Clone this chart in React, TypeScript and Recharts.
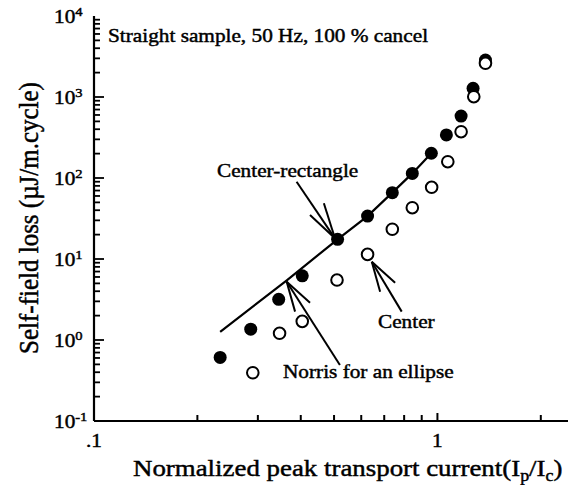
import { ComposedChart, Scatter, Line, XAxis, YAxis, ReferenceLine } from "recharts";

const W = 573;
const H = 485;
const LEFT = 94;
const TOP = 16;
const PLOT_W = 474;
const PLOT_H = 405;
const SX = 1.12; // scan is a little wider than tall
const FONT = '"Liberation Serif", "Times New Roman", serif';
const INK = 0.45; // thin outline so the text reads as heavy as the scan

// filled circles: Center-rectangle
const rectX = [0.233, 0.286, 0.345, 0.404, 0.512, 0.626, 0.739, 0.845, 0.96, 1.062, 1.172, 1.27, 1.38];
const rectLoss = [0.61, 1.36, 3.18, 6.2, 17.5, 33.9, 65.9, 114, 202, 340, 582, 1280, 2860];

// open circles: Center
const centerX = [0.29, 0.347, 0.404, 0.51, 0.626, 0.739, 0.845, 0.962, 1.072, 1.172, 1.276, 1.38];
const centerLoss = [0.394, 1.21, 1.7, 5.5, 11.4, 23.3, 43, 76.8, 159, 373, 1009, 2606];

// Norris for an ellipse
const norrisX = [0.233, 0.365, 0.512, 0.626, 0.739, 0.845, 0.96];
const norrisLoss = [1.26, 5.5, 17.5, 33.9, 65.9, 114, 202];

const xDomain = [0.1, 2.4];
const yDomain = [0.1, 10000];
const xTicks = [0.1, 0.2, 0.3, 0.4, 0.5, 0.6, 0.7, 0.8, 0.9, 1, 2];
const xTickLabels = [".1", "", "", "", "", "", "", "", "", "1", ""];
const yDecades = [0.1, 1, 10, 100, 1000, 10000];
const yExponents = ["-1", "0", "1", "2", "3", "4"];
const yTicks = yDecades.flatMap((d, i) =>
  i === yDecades.length - 1 ? [d] : [1, 2, 3, 4, 5, 6, 7, 8, 9].map((m) => +(d * m).toPrecision(3))
);

// annotation arrows in data units: tail, tip, two barbs
const arrows = [
  { tail: [0.389, 90], tip: [0.503, 18], barbs: [[0.4256, 34.9], [0.467, 48.7]] },
  { tail: [0.52, 0.491], tip: [0.364, 5.25], barbs: [[0.385, 2.24], [0.4256, 2.89]] },
  { tail: [0.787, 2.24], tip: [0.644, 9.27], barbs: [[0.681, 3.95], [0.753, 5.1]] },
];

const toPts = (xs: number[], ys: number[]) => xs.map((x, i) => ({ x, y: ys[i] }));
const rectData = toPts(rectX, rectLoss);
const centerData = toPts(centerX, centerLoss);
const norrisData = toPts(norrisX, norrisLoss);

// same log mapping as the chart's plot box, only used for the inward tick marks
const xSpan = Math.log10(xDomain[1] / xDomain[0]);
const ySpan = Math.log10(yDomain[1] / yDomain[0]);
const tx = (v: number) => LEFT + (PLOT_W * Math.log10(v / xDomain[0])) / xSpan;
const ty = (v: number) => TOP + PLOT_H * (1 - Math.log10(v / yDomain[0]) / ySpan);

const XTickLabel = (props: any) => {
  const { x, y, payload } = props;
  const label = xTickLabels[xTicks.indexOf(payload.value)];
  if (!label) return <g />;
  return (
    <text
      transform={`translate(${x},${y + 26}) scale(${SX},1)`}
      textAnchor="middle"
      fontSize={19}
      fontFamily={FONT}
      fill="#000"
      stroke="#000"
      strokeWidth={INK}
    >
      {label}
    </text>
  );
};

const YTickLabel = (props: any) => {
  const { x, y, payload } = props;
  const i = yDecades.indexOf(payload.value);
  if (i < 0) return <g />;
  return (
    <text
      transform={`translate(${x - 40},${y + 7}) scale(${SX},1)`}
      fontSize={19}
      fontFamily={FONT}
      fill="#000"
      stroke="#000"
      strokeWidth={INK}
    >
      10
      <tspan fontSize={13} dy={-7}>{yExponents[i]}</tspan>
    </text>
  );
};

const dot = (p: any) => <circle cx={p.cx} cy={p.cy} r={6.5} fill="#000" />;
const ring = (p: any) => <circle cx={p.cx} cy={p.cy} r={5.8} fill="#fff" stroke="#000" strokeWidth={2} />;

const Note = ({ x, y, size = 19, children }: any) => (
  <text
    transform={`translate(${x},${y}) scale(${SX},1)`}
    fontSize={size}
    fontFamily={FONT}
    fill="#000"
    stroke="#000"
    strokeWidth={INK}
  >
    {children}
  </text>
);

const frame = { stroke: "#000", strokeWidth: 2.2 };

export default function App() {
  return (
    <div style={{ position: "absolute", left: 0, top: 0, width: W, height: H, background: "#fff" }}>
      <ComposedChart width={W} height={H} margin={{ top: TOP, right: 5, bottom: 0, left: 0 }}>
        <XAxis
          dataKey="x"
          type="number"
          scale="log"
          domain={xDomain}
          allowDataOverflow
          ticks={xTicks}
          tick={<XTickLabel />}
          tickSize={0}
          tickMargin={0}
          tickLine={false}
          axisLine={frame}
          height={64}
          interval={0}
        />
        <XAxis xAxisId="top" orientation="top" type="number" scale="log" domain={xDomain} allowDataOverflow tick={false} tickLine={false} axisLine={frame} height={0} />
        <YAxis
          dataKey="y"
          type="number"
          scale="log"
          domain={yDomain}
          allowDataOverflow
          ticks={yTicks}
          tick={<YTickLabel />}
          tickSize={0}
          tickMargin={0}
          tickLine={false}
          axisLine={frame}
          width={LEFT}
          interval={0}
        />
        <YAxis yAxisId="right" orientation="right" type="number" scale="log" domain={yDomain} allowDataOverflow tick={false} tickLine={false} axisLine={frame} width={0} />
        <Line data={norrisData} dataKey="y" type="linear" stroke="#000" strokeWidth={2.2} dot={false} isAnimationActive={false} />
        {arrows.map((a, i) => (
          <g key={i}>
            <ReferenceLine segment={[{ x: a.tail[0], y: a.tail[1] }, { x: a.tip[0], y: a.tip[1] }]} stroke="#000" strokeWidth={2} />
            {a.barbs.map((b, j) => (
              <ReferenceLine key={j} segment={[{ x: b[0], y: b[1] }, { x: a.tip[0], y: a.tip[1] }]} stroke="#000" strokeWidth={2} />
            ))}
          </g>
        ))}
        <Scatter data={rectData} shape={dot} isAnimationActive={false} />
        <Scatter data={centerData} shape={ring} isAnimationActive={false} />
      </ComposedChart>
      <svg width={W} height={H} style={{ position: "absolute", left: 0, top: 0, pointerEvents: "none" }}>
        {xTicks.slice(1).map((v) => (
          <line key={"xt" + v} x1={tx(v)} x2={tx(v)} y1={TOP + PLOT_H} y2={TOP + PLOT_H - (v === 1 ? 8 : 6)} stroke="#000" strokeWidth={2} />
        ))}
        {yTicks.slice(1, -1).map((v) => (
          <line key={"yt" + v} x1={LEFT} x2={LEFT + (yDecades.includes(v) ? 10 : 6)} y1={ty(v)} y2={ty(v)} stroke="#000" strokeWidth={1.8} />
        ))}
        <Note x={108} y={42}>Straight sample, 50 Hz, 100 % cancel</Note>
        <Note x={217} y={177}>Center-rectangle</Note>
        <Note x={378} y={328}>Center</Note>
        <Note x={283} y={378}>Norris for an ellipse</Note>
        <Note x={133} y={476} size={24}>
          Normalized peak transport current(I
          <tspan fontSize={16} dy={5}>p</tspan>
          <tspan dy={-5}>/I</tspan>
          <tspan fontSize={16} dy={5}>c</tspan>
          <tspan dy={-5}>)</tspan>
        </Note>
        <text
          transform={`translate(38,218) scale(${SX},1) rotate(-90)`}
          textAnchor="middle"
          fontSize={25}
          fontFamily={FONT}
          fill="#000"
          stroke="#000"
          strokeWidth={INK}
        >
          Self-field loss (µJ/m.cycle)
        </text>
      </svg>
    </div>
  );
}
